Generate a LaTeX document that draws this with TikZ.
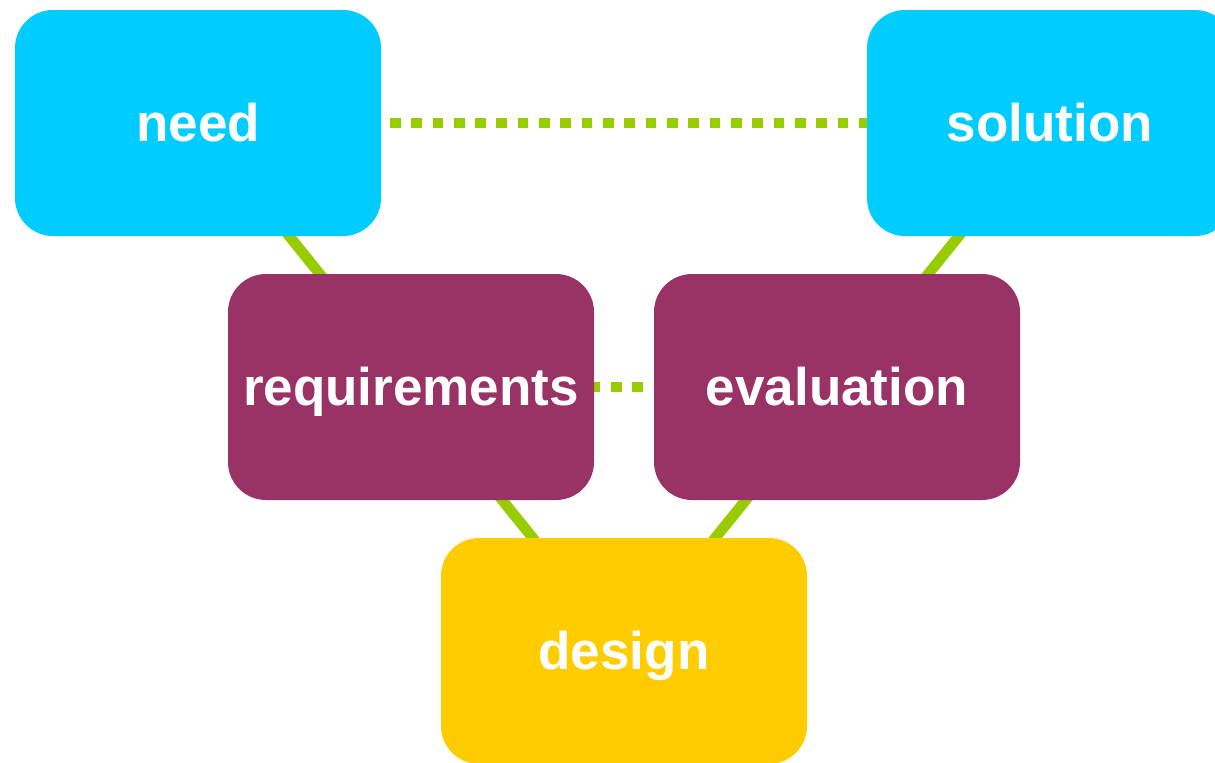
\documentclass[tikz,border=0pt]{standalone}
\usepackage{fontspec}
\setmainfont{Liberation Sans}
\usetikzlibrary{positioning,backgrounds}
\definecolor{skyblue}{RGB}{0,204,255}
\definecolor{plum}{RGB}{153,51,102}
\definecolor{gold}{RGB}{255,204,0}
\definecolor{leaf}{RGB}{153,204,0}

\begin{document}
\begin{tikzpicture}[
    stage/.style={rectangle,rounded corners=19pt,inner sep=0pt,
		minimum width=183pt,minimum height=113pt,text=white,
		font=\bfseries\fontsize{26.5}{30}\selectfont,
		text height=20pt,text depth=2pt},
    outer/.style={stage,fill=skyblue},
    inner/.style={stage,fill=plum},
    core/.style={stage,fill=gold},
% Connector styles
    link/.style={draw=leaf,line width=5.33pt},
    dotlink/.style={link,dash pattern=on 5.33pt off 5.33pt},
    node distance=132pt and 106.5pt,on grid
    ]
   \useasboundingbox (0,0) rectangle (607.5pt,-381pt);
%%% Draw the V of stages
   \node [core] at (312pt,-325.5pt) (design) {design};
   \node [inner,above left=of design] (req) {requirements};
   \node [inner,above right=of design] (eval) {evaluation};
   \node [outer,above left=of req] (need) {need};
   \node [outer,above right=of eval] (sol) {solution};

   \begin{scope}[on background layer]
      \draw [link] (need.center) -- (req.center);
      \draw [link] (req.center) -- (design.center);
      \draw [link] (design.center) -- (eval.center);
      \draw [link] (eval.center) -- (sol.center);

      \draw [dotlink] (need.center) -- (sol.center);
      \draw [dotlink,dash phase=6.64pt] (req.center) -- (eval.center);
   \end{scope}
\end{tikzpicture}
\end{document}
